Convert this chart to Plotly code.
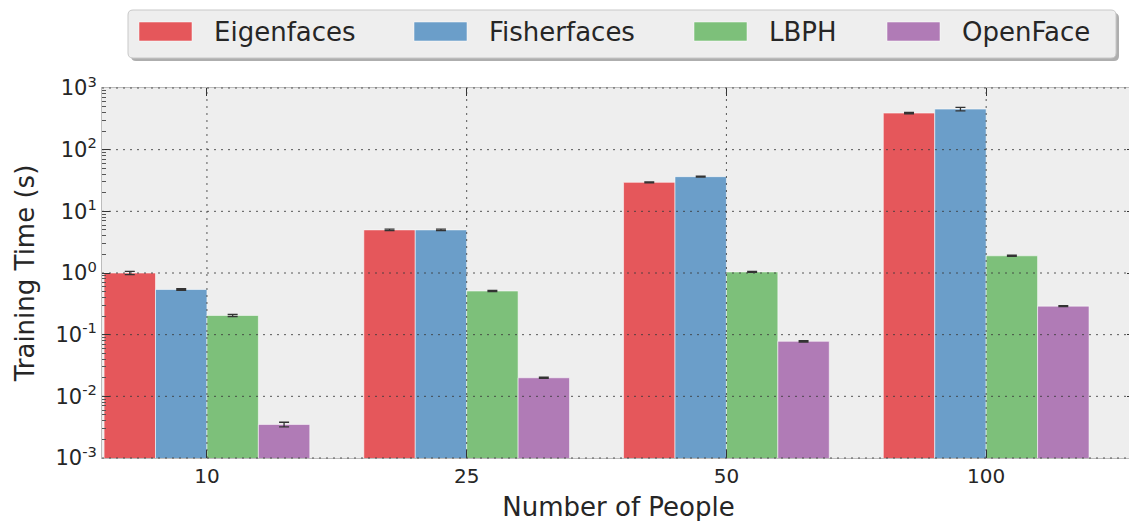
import plotly.graph_objects as go

# ---------------- data ----------------
people = ["10", "25", "50", "100"]
series_names = ["Eigenfaces", "Fisherfaces", "LBPH", "OpenFace"]
eigenfaces = [1.0, 5.0, 29.5, 392.0]
fisherfaces = [0.54, 5.0, 36.5, 455.0]
lbph = [0.205, 0.51, 1.04, 1.9]
openface = [0.0035, 0.020, 0.078, 0.29]
eigen_err = [0.06, 0.15, 0.6, 10.0]
fisher_err = [0.015, 0.15, 0.7, 30.0]
lbph_err = [0.008, 0.01, 0.02, 0.04]
open_err = [0.0003, 0.0005, 0.002, 0.005]
ytick_vals = [1e-3, 1e-2, 1e-1, 1e0, 1e1, 1e2, 1e3]
ytick_text = ["10<sup>-3</sup>", "10<sup>-2</sup>", "10<sup>-1</sup>", "10<sup>0</sup>",
              "10<sup>1</sup>", "10<sup>2</sup>", "10<sup>3</sup>"]

colors = ["#E5575B", "#6B9EC9", "#7DC07A", "#B07BB6"]
values = [eigenfaces, fisherfaces, lbph, openface]
errors = [eigen_err, fisher_err, lbph_err, open_err]

FONT = "DejaVu Sans"
TXT = "#262626"

W, H = 1137, 521
# target plot area on screen (pixels)
L, R, T, B = 102, 1135, 88, 458
OFF = 8  # page offset of the figure inside the browser window


def px(x):
    return (x - L) / (R - L)


def py(y):
    return (B - y) / (B - T)


fig = go.Figure()
for name, vals, errs, col in zip(series_names, values, errors, colors):
    fig.add_trace(go.Bar(
        x=people, y=vals, name=name,
        marker=dict(color=col, line=dict(color="rgba(255,255,255,0.55)", width=1)),
        error_y=dict(type="data", array=errs, visible=True, color="#333333",
                     thickness=1.3, width=5),
        showlegend=False,
    ))

shapes = []
grid_line = dict(color="rgba(60,60,60,0.85)", width=1, dash="2px,5px")
for i, v in enumerate(ytick_vals):
    frac = i / (len(ytick_vals) - 1)
    shapes.append(dict(type="line", xref="paper", yref="y domain", x0=0, x1=1,
                       y0=frac, y1=frac, line=grid_line, layer="above"))
for i, c in enumerate(people):
    shapes.append(dict(type="line", xref="x", yref="paper", x0=i, x1=i, y0=0, y1=1,
                       line=grid_line, layer="above"))


def rounded(x0, y0, x1, y1, r):
    rx, ry = r / (R - L), r / (B - T)
    X0, X1 = px(x0), px(x1)
    Y0, Y1 = py(y1), py(y0)
    return (f"M{X0+rx},{Y1} L{X1-rx},{Y1} Q{X1},{Y1} {X1},{Y1-ry} "
            f"L{X1},{Y0+ry} Q{X1},{Y0} {X1-rx},{Y0} L{X0+rx},{Y0} "
            f"Q{X0},{Y0} {X0},{Y0+ry} L{X0},{Y1-ry} Q{X0},{Y1} {X0+rx},{Y1} Z")

shapes.append(dict(type="path", xref="paper", yref="paper",
                   path=rounded(131, 13, 1119, 61, 5),
                   fillcolor="rgba(140,140,140,0.7)", line=dict(width=0), layer="above"))
shapes.append(dict(type="path", xref="paper", yref="paper",
                   path=rounded(128, 10, 1116, 58, 5),
                   fillcolor="#EEEEEE", line=dict(color="#C8C8C8", width=1), layer="above"))

annotations = []
swatch_x = [139, 414, 694, 887]
for name, col, sx in zip(series_names, colors, swatch_x):
    shapes.append(dict(type="rect", xref="paper", yref="paper",
                       x0=px(sx), x1=px(sx + 53), y0=py(41), y1=py(22),
                       fillcolor=col, line=dict(color="rgba(255,255,255,0.5)", width=1),
                       layer="above"))
    annotations.append(dict(xref="paper", yref="paper", x=px(sx + 73), y=py(32),
                            xanchor="left", yanchor="middle", text=name, showarrow=False,
                            font=dict(family=FONT, size=26, color=TXT)))

fig.update_layout(
    width=W, height=H,
    margin=dict(l=L - OFF, r=W - (R - OFF), t=T - OFF, b=H - (B - OFF), pad=0,
                autoexpand=False),
    paper_bgcolor="white", plot_bgcolor="#EEEEEE",
    barmode="group", bargap=0.208, bargroupgap=0,
    font=dict(family=FONT, color=TXT),
    shapes=shapes, annotations=annotations,
)
fig.update_xaxes(
    type="category", range=[-0.404, 3.573], automargin=False,
    showgrid=False, showline=True, linecolor="#BCBCBC", linewidth=1, mirror="ticks",
    ticks="inside", ticklen=8, tickcolor="#333333", tickwidth=1,
    tickfont=dict(family=FONT, size=20, color=TXT),
    title=dict(text="Number of People", font=dict(family=FONT, size=26, color=TXT), standoff=10),
    zeroline=False,
)
fig.update_yaxes(
    type="log", range=[-3, 3], automargin=False,
    tickvals=ytick_vals, ticktext=ytick_text,
    showgrid=False, showline=True, linecolor="#BCBCBC", linewidth=1, mirror="ticks",
    ticks="inside", ticklen=8, tickcolor="#333333", tickwidth=1,
    minor=dict(ticks="inside", ticklen=4, tickcolor="#555555", showgrid=False, dtick="D1"),
    tickfont=dict(family=FONT, size=21, color=TXT),
    title=dict(text="Training Time (s)", font=dict(family=FONT, size=26, color=TXT), standoff=13),
    zeroline=False,
)

fig.write_html("out.html")
